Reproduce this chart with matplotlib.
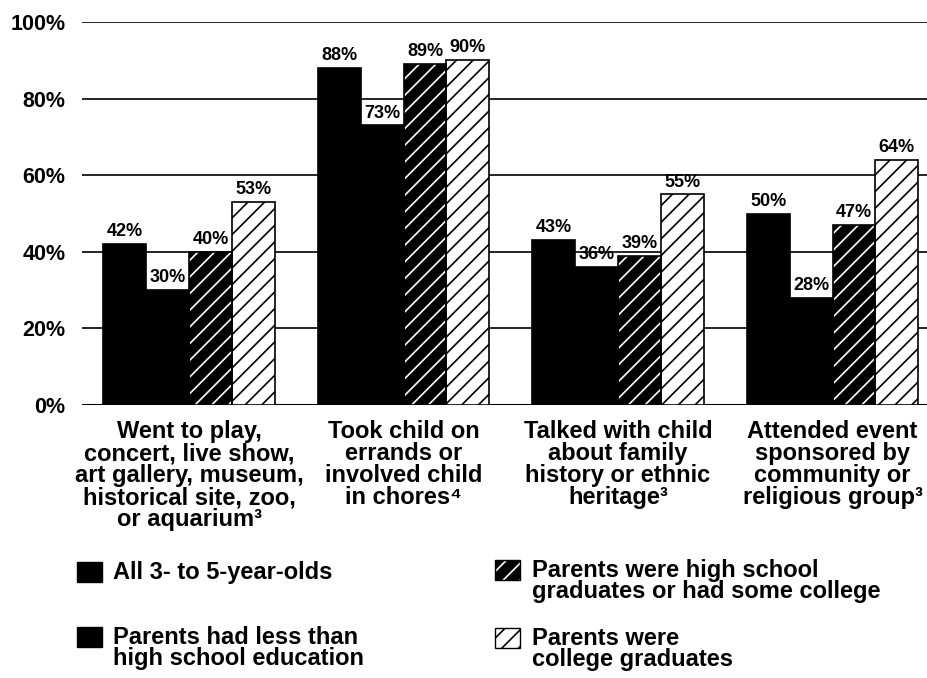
import matplotlib
matplotlib.use("Agg")
import matplotlib.pyplot as plt
from matplotlib.patches import Rectangle
import numpy as np

plt.rcParams['font.family'] = ['Liberation Sans', 'DejaVu Sans']
plt.rcParams['hatch.linewidth'] = 1.2

categories = [
    "Went to play,\nconcert, live show,\nart gallery, museum,\nhistorical site, zoo,\nor aquarium³",
    "Took child on\nerrands or\ninvolved child\nin chores⁴",
    "Talked with child\nabout family\nhistory or ethnic\nheritage³",
    "Attended event\nsponsored by\ncommunity or\nreligious group³",
]
series_names = [
    "All 3- to 5-year-olds",
    "Parents had less than\nhigh school education",
    "Parents were high school\ngraduates or had some college",
    "Parents were\ncollege graduates",
]
all_kids = [42, 88, 43, 50]
less_hs = [30, 73, 36, 28]
hs_grad = [40, 89, 39, 47]
college = [53, 90, 55, 64]
yticks = [0, 20, 40, 60, 80, 100]
ytick_labels = ["0%", "20%", "40%", "60%", "80%", "100%"]

series = [all_kids, less_hs, hs_grad, college]
styles = [
    dict(facecolor="black", edgecolor="black", hatch=None),
    dict(facecolor="black", edgecolor="black", hatch=None),
    dict(facecolor="black", edgecolor="white", hatch="//"),
    dict(facecolor="white", edgecolor="black", hatch="//"),
]

fig = plt.figure(figsize=(9.28, 6.78), dpi=100)
ax = fig.add_axes([82/928, 1-405/678, 1-82/928, (405-22)/678])

x = np.arange(len(categories))
w = 0.2
for i, (vals, st) in enumerate(zip(series, styles)):
    pos = x + (i - 1.5) * w
    ax.bar(pos, vals, width=w, facecolor=st["facecolor"], edgecolor=st["edgecolor"],
           hatch=st["hatch"], linewidth=0, zorder=3)
    ax.bar(pos, vals, width=w, facecolor="none", edgecolor="black", linewidth=1.2, zorder=4)
    for p, v in zip(pos, vals):
        ax.text(p, v + 1.0, f"{v}%", ha="center", va="bottom", fontsize=13,
                fontweight="bold", zorder=5)

ax.set_ylim(0, 100)
ax.set_xlim(-0.499, 3.445)
ax.set_yticks(yticks)
ax.set_yticklabels(ytick_labels, fontsize=15.5, fontweight="bold")
ax.tick_params(axis="y", length=0, pad=12)
ax.set_xticks([])
for s in ax.spines.values():
    s.set_visible(False)
ax.grid(axis="y", color="black", linewidth=1.2, zorder=0)
ax.axhline(0, color="black", linewidth=1.5, zorder=2)

for xi, cat in zip(x, categories):
    ax.text(xi, -4.0, cat, ha="center", va="top", fontsize=17, fontweight="bold",
            linespacing=0.94, transform=ax.transData)

# legend
def legend_item(px, py, st, label, tx):
    sx, sy = px / 928, 1 - py / 678
    sw, sh = 25/928, 20/678
    r = Rectangle((sx, sy - sh), sw, sh, transform=fig.transFigure,
                  facecolor=st["facecolor"], edgecolor=st["edgecolor"], hatch=st["hatch"],
                  linewidth=0)
    fig.add_artist(r)
    r2 = Rectangle((sx, sy - sh), sw, sh, transform=fig.transFigure,
                   facecolor="none", edgecolor="black", linewidth=1.0)
    fig.add_artist(r2)
    fig.text(tx / 928, sy + 1/678, label, ha="left", va="top", fontsize=17,
             fontweight="bold", linespacing=0.9)

legend_item(77, 562, styles[0], series_names[0], 113)
legend_item(77, 627, styles[1], series_names[1], 113)
legend_item(495, 560, styles[2], series_names[2], 532)
legend_item(495, 628, styles[3], series_names[3], 532)

fig.savefig("out.png", dpi=100)
